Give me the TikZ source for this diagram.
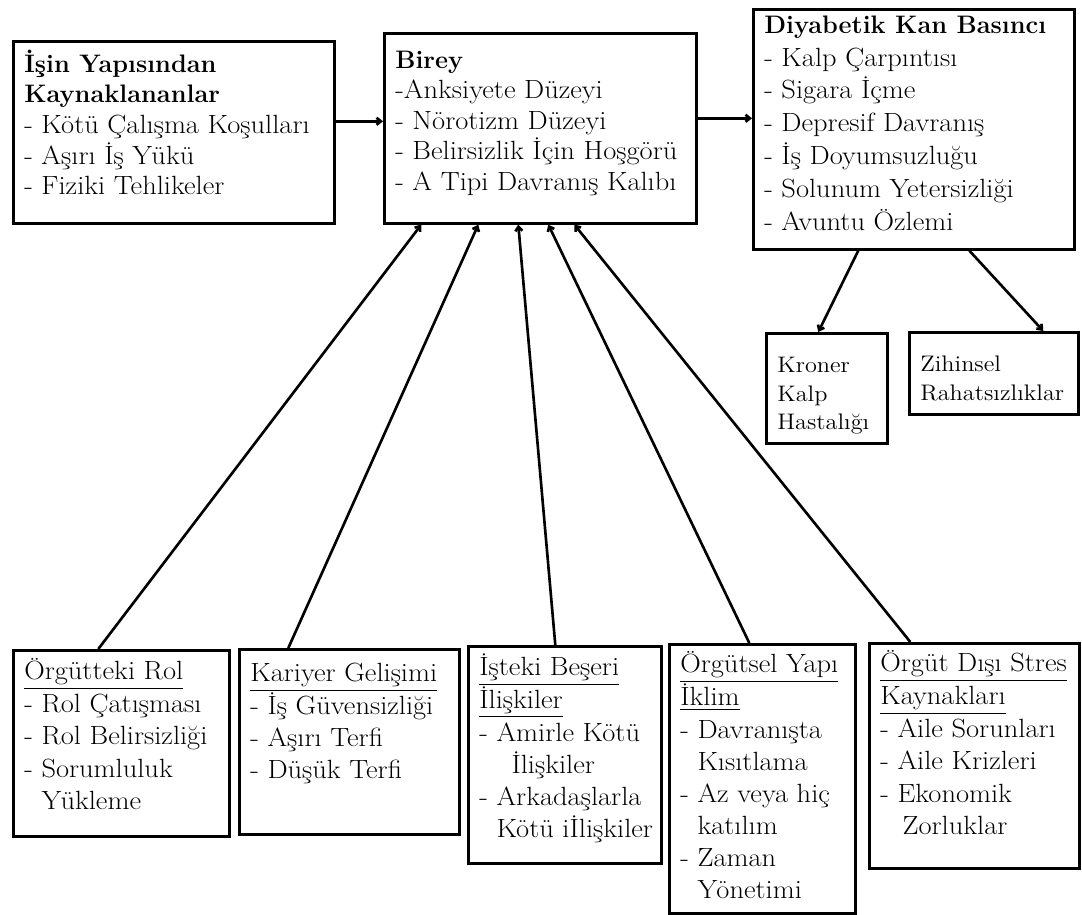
\documentclass[tikz,border=0pt]{standalone}
\usepackage{fontspec}
\usepackage{amsmath}
\usepackage{xcolor}
\usetikzlibrary{arrows.meta}
\usetikzlibrary{positioning}

\setmainfont{Latin Modern Roman}[FakeStretch=1.08]
\newfontfamily\kalinyazi{Latin Modern Roman}
\newcommand{\yazi}{\fontsize{15}{17.3}\selectfont}
\newcommand{\altyazi}{\fontsize{15}{18.3}\selectfont}
\newcommand{\kucukyazi}{\fontsize{12.8}{16.2}\selectfont}
\newcommand{\baslik}[1]{{\kalinyazi\bfseries\fontsize{14.4}{17.3}\selectfont #1}}
\newcommand{\kutuic}[4][6pt]{\parbox[t][#3][t]{#2}{\vspace*{#1}\noindent\begin{tabular}[t]{@{}l@{}}#4\end{tabular}}}
\newcommand{\tire}{\phantom{- }}

\tikzset{
  kutu/.style={draw, line width=1.5pt, anchor=north west, inner xsep=0.22cm, inner ysep=0pt, font=\yazi},
  altkutu/.style={kutu, font=\altyazi},
  ok/.style={line width=1.5pt, -{Straight Barb[length=2.5pt,width=4pt]}},
}

\begin{document}
\begin{tikzpicture}[x=0.02cm, y=-0.02cm]
    \useasboundingbox (0,0) rectangle (1082,915);
    % ust sira
    \node[kutu] (isin) at (12,40) {\kutuic[5pt]{5.98cm}{3.64cm}{\baslik{İşin Yapısından}\\ \baslik{Kaynaklananlar}\\ - Kötü Çalışma Koşulları\\ - Aşırı İş Yükü\\ - Fiziki Tehlikeler}};
    \node[kutu] (birey) at (383,32) {\kutuic[7.8pt]{5.80cm}{3.80cm}{\baslik{Birey}\\ -Anksiyete Düzeyi\\ - Nörotizm Düzeyi\\ - Belirsizlik İçin Hoşgörü\\ - A Tipi Davranış Kalıbı}};
    \node[kutu, font=\fontsize{15}{18.7}\selectfont] (diyabet) at (752,8) {\kutuic[0.5pt]{5.98cm}{4.80cm}{\baslik{Diyabetik Kan Basıncı}\\ - Kalp Çarpıntısı\\ - Sigara İçme\\ - Depresif Davranış\\ - İş Doyumsuzluğu\\ - Solunum Yetersizliği\\ - Avuntu Özlemi}};
    \node[kutu, font=\kucukyazi] (kroner) at (765,332) {\kutuic[11pt]{1.98cm}{2.20cm}{Kroner\\ Kalp\\ Hastalığı}};
    \node[kutu, font=\kucukyazi] (zihin) at (908,331) {\kutuic[11pt]{2.94cm}{1.64cm}{Zihinsel\\ Rahatsızlıklar}};
    % alt sira
    \node[altkutu] (rol) at (12,649) {\kutuic[4pt]{3.88cm}{3.72cm}{\underline{Örgütteki Rol}\\ - Rol Çatışması\\ - Rol Belirsizliği\\ - Sorumluluk\\ \tire Yükleme}};
    \node[altkutu] (kariyer) at (238,648) {\kutuic[5.4pt]{3.96cm}{3.70cm}{\underline{Kariyer Gelişimi}\\ - İş Güvensizliği\\ - Aşırı Terfi\\ - Düşük Terfi}};
    \node[altkutu] (beseri) at (467,645) {\kutuic[3.7pt]{3.42cm}{4.34cm}{\underline{İşteki Beşeri}\\ \underline{İlişkiler}\\ - Amirle Kötü\\ \tire\hspace*{0.3cm}İlişkiler\\ - Arkadaşlarla\\ \tire Kötü iİlişkiler}};
    \node[altkutu] (yapi) at (668,643) {\kutuic[3.5pt]{3.28cm}{5.38cm}{\underline{Örgütsel Yapı}\\ \underline{İklim}\\ - Davranışta\\ \tire Kısıtlama\\ - Az veya hiç\\ \tire katılım\\ - Zaman\\ \tire Yönetimi}};
    \node[altkutu] (disi) at (868,642) {\kutuic[3.5pt]{3.76cm}{4.50cm}{\underline{Örgüt Dışı Stres}\\ \underline{Kaynakları}\\ - Aile Sorunları\\ - Aile Krizleri\\ - Ekonomik\\ \tire\hspace*{0.1cm}Zorluklar}};

    \coordinate (g1) at ([yshift=0.22cm]isin.east);
    \coordinate (g2) at ([yshift=0.2cm]birey.east);
    \draw[ok] (g1) -- (g1 -| birey.west);
    \draw[ok] (g2) -- (g2 -| diyabet.west);
    \draw[ok] ([xshift=-1.11cm]diyabet.south) -- ([xshift=-0.17cm]kroner.north);
    \draw[ok] ([xshift=1.11cm]diyabet.south) -- ([xshift=0.99cm]zihin.north);
    % stres kaynaklari -> birey
    \draw[ok] ([xshift=-0.46cm]rol.north) -- ([xshift=-2.38cm]birey.south);
    \draw[ok] ([xshift=-1.22cm]kariyer.north) -- ([xshift=-1.24cm]birey.south);
    \draw[ok] ([xshift=-0.19cm]beseri.north) -- ([xshift=-0.44cm]birey.south);
    \draw[ok] ([xshift=-0.26cm]yapi.north) -- ([xshift=0.16cm]birey.south);
    \draw[ok] ([xshift=-1.28cm]disi.north) -- ([xshift=0.68cm]birey.south);
\end{tikzpicture}
\end{document}
